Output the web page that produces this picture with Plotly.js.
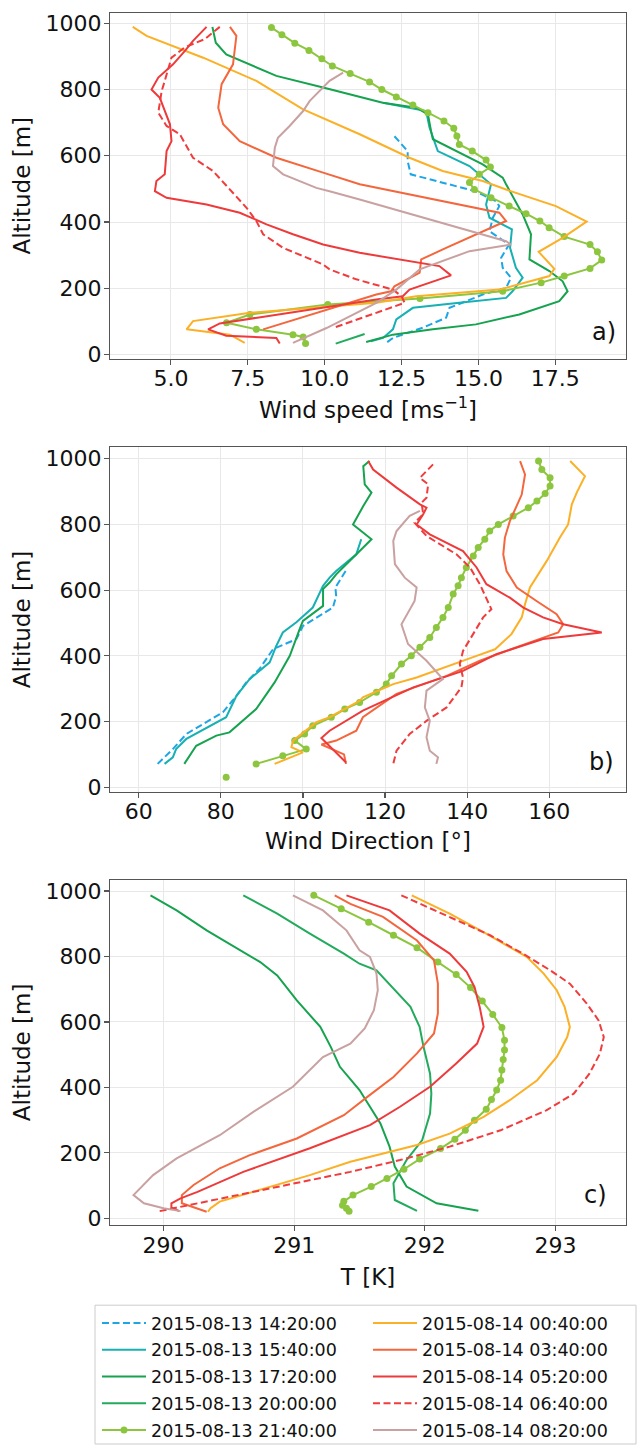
<!DOCTYPE html>
<html><head><meta charset="utf-8">
<script src="https://cdn.plot.ly/plotly-3.0.1.min.js"></script>
<style>html,body{margin:0;padding:0;background:#fff}#chart{width:638px;height:1448px}</style>
</head><body><div id="chart"></div>
<script>
// ---------- series names ----------
const NAMES = ['2015-08-13 14:20:00','2015-08-13 15:40:00','2015-08-13 17:20:00','2015-08-13 20:00:00','2015-08-13 21:40:00',
               '2015-08-14 00:40:00','2015-08-14 03:40:00','2015-08-14 05:20:00','2015-08-14 06:40:00','2015-08-14 08:20:00'];

// ---------- panel a: wind speed [m/s] vs altitude [m] ----------
const A_1420_ALT = [659,614,584,544,493,463,448,413,372,332,292,262,232,201,181,141,111,81,50,35];
const A_1420 = [12.27,12.7,12.7,12.8,14.9,15.57,15.68,15.47,15.36,16.0,15.74,15.79,16.06,15.9,15.14,14.06,13.95,13.19,12.22,12.0];
const A_1540_ALT = [760,735,685,614,569,514,453,413,378,322,262,232,191,171,156,141,106,76,50,40];
const A_1540 = [11.9,13.3,13.41,13.68,14.71,15.41,15.25,15.36,16.09,16.03,16.22,16.44,16.11,15.9,14.38,12.87,12.33,12.22,11.9,11.5];
const A_1720_ALT = [989,941,906,876,841,806,777,760,745,725,675,650,574,534,514,423,363,287,252,221,191,161,121,91,76,60,38];
const A_1720 = [6.35,6.46,6.8,7.57,8.43,9.95,11.14,11.89,12.98,13.36,13.46,13.52,15.14,15.79,15.9,16.44,16.71,16.66,17.31,17.74,17.9,17.63,16.33,14.92,13.52,12.22,11.35];
const A_2000_ALT = [62,33];
const A_2000 = [11.3,10.36];
const A_2140_ALT = [987,965,940,918,893,871,848,823,800,777,753,730,705,683,660,634,614,587,566,544,519,498,473,448,425,403,383,356,332,310,285,260,237,217,191,169,151,121,96,76,60,53,33];
const A_2140 = [8.27,8.61,9.03,9.49,9.91,10.25,10.83,11.46,11.86,12.33,12.87,13.36,13.88,14.2,14.3,14.38,14.8,15.25,15.39,15.03,14.71,14.87,15.41,16.0,16.55,17.0,17.3,17.79,18.63,18.87,19.01,18.63,17.79,17.04,15.79,13.1,10.1,7.57,6.81,7.78,8.97,9.3,9.38];
const A_0040_ALT = [989,962,896,826,740,665,594,554,524,498,448,423,401,352,310,259,237,196,176,156,126,101,76,60,35];
const A_0040 = [3.76,4.21,6.05,7.78,9.3,11.14,12.76,13.84,15.14,15.9,17.52,18.06,18.52,17.74,16.96,17.47,17.31,15.68,12.98,11.68,7.57,5.72,5.51,6.92,7.4];
const A_0340_ALT = [989,962,876,816,745,695,644,594,549,514,428,403,322,287,247,206,191,181,76];
const A_0340 = [6.92,7.13,7.02,6.65,6.54,6.7,7.24,8.43,9.95,11.14,15.68,15.9,13.95,13.14,13.09,12.27,12.16,11.68,8.0];
const A_0520_ALT = [989,947,916,876,836,800,775,695,644,614,544,524,493,473,453,428,393,363,332,307,267,239,196,176,166,94,76,57,50,33];
const A_0520 = [6.16,5.72,5.45,5.07,4.59,4.37,4.64,4.97,5.02,4.86,4.8,4.53,4.48,4.86,6.16,7.24,8.11,8.97,9.95,11.14,13.73,14.11,12.76,12.54,11.68,6.59,6.21,6.8,8.43,8.54];
const A_0640_ALT = [989,952,927,896,826,795,730,690,665,594,554,443,403,363,322,272,257,227,196,176,156,126,80];
const A_0640 = [6.59,6.1,5.45,5.02,4.8,4.7,4.59,4.86,5.29,5.72,6.37,7.46,7.78,8.0,8.65,9.95,10.16,11.03,12.22,12.5,12.6,11.68,10.27];
const A_0820_ALT = [851,826,765,735,690,654,624,569,544,503,493,468,342,332,312,257,196,156,80,35];
const A_0820 = [10.6,10.16,9.51,9.3,8.86,8.48,8.38,8.32,8.65,9.73,10.16,11.14,15.9,16.06,14.71,13.09,12.33,11.68,10.06,8.97];

// ---------- panel b: wind direction [deg] vs altitude [m] ----------
const B_1420_ALT = [658,608,582,547,491,451,420,360,319,278,228,162,116,71];
const B_1420 = [110.4,107.9,108.1,107.3,100,98.4,92.7,89.4,86.2,83.8,80.5,71.6,68.3,64.6];
const B_1540_ALT = [755,709,658,638,613,547,502,471,430,380,329,278,213,147,116,91,71];
const B_1540 = [114.2,113.0,108.1,106.5,104.9,102.4,98.4,95.1,93.5,91.9,87.0,83.8,81.3,71.6,69.1,68.3,66.3];
const B_1720_ALT = [993,977,922,897,856,800,755,714,648,623,603,552,506,481,400,319,238,167,157,126,71];
const B_1720 = [116.2,114.7,115.05,116.7,114.7,112.2,116.7,113.4,108.1,106.5,104.9,104.9,100,99.2,96.8,93.1,88.6,82.1,78.9,74.0,71.1];
const B_2140_ALT = [993,967,942,917,894,871,851,826,800,780,755,730,704,669,638,613,588,547,517,486,456,426,400,375,339,314,289,258,238,213,187,162,142,116,96,71,50,30];
const B_2140 = [157.4,158.2,160.2,160.2,159,157,154.9,151.2,147.6,145.5,144.3,142.7,141.5,139.8,138.6,137.8,136.6,135.4,134.1,132.5,130.9,128.5,126.4,124.0,121.6,120.3,117.9,113.8,110.2,106.9,102.4,100.4,98,100.8,95.1,88.6,null,81.3];
const B_0040_ALT = [993,947,897,861,800,760,689,608,557,517,466,420,400,360,334,314,274,263,213,198,167,142,122,106,71];
const B_0040 = [165.1,168.7,166.7,165.5,164.6,162.6,159.4,155.3,154.1,153.3,150.8,146.8,142.3,133.3,127.7,122.0,114.6,113.8,106.5,103.3,100,97.6,97.2,100,93.1];
const B_0340_ALT = [993,952,891,810,760,709,658,608,567,527,496,471,441,385,339,284,213,172,142,130,100,71];
const B_0340 = [152.9,154.1,153.3,150.4,149.2,148.8,149.6,152.1,156.9,161.8,163.4,162.2,155.3,143.1,135,122.8,114.6,113,108.1,104.5,110,110.5];
const B_0520_ALT = [993,967,912,861,851,831,800,770,719,669,618,577,547,517,496,471,451,405,354,304,233,172,150,120,75];
const B_0520 = [115.9,117.1,122.8,128.5,130.1,129.3,127.7,130.9,139,142.3,144.7,150.4,153.7,158.5,163.4,172.8,158.5,147.1,139,126.9,114.6,106.5,104.5,107,110.5];
const B_0640_ALT = [983,967,942,922,881,866,831,805,765,709,669,618,577,542,517,466,415,375,334,304,243,202,162,111,71];
const B_0640 = [131.7,130.5,128.5,130.5,130.1,128.9,129.3,127.2,130.1,137.4,140.7,143.1,144.7,145.9,143.9,141.5,139,138.2,139,138.6,135,130.1,126,122.8,122];
const B_0820_ALT = [841,826,780,750,679,638,608,567,496,436,385,329,294,243,202,152,111,91,71];
const B_0820 = [128.5,126,122.8,122,122.4,124.8,127.7,127.2,124,125.6,130.1,134.1,130.1,129.7,130.9,130.1,130.9,132.9,132.5];

// ---------- panel c: temperature [K] vs altitude [m] ----------
const C_1720_ALT = [987,941,880,829,783,742,666,585,524,463,392,290,219,158,97,46,23];
const C_1720 = [289.90,290.10,290.33,290.54,290.74,290.87,291.02,291.20,291.28,291.35,291.50,291.66,291.73,291.77,291.86,292.09,292.41];
const C_2000_ALT = [987,931,870,809,778,758,646,585,524,442,381,320,239,178,107,56,23];
const C_2000 = [290.61,290.87,291.12,291.38,291.50,291.63,291.89,291.96,291.99,292.04,292.05,292.04,291.98,291.86,291.76,291.77,291.94];
const C_2140_ALT = [987,946,905,865,827,783,745,705,664,623,583,544,514,485,453,422,392,363,333,300,269,242,213,181,150,122,97,71,52,40,31,22];
const C_2140 = [291.15,291.36,291.57,291.76,291.94,292.10,292.24,292.35,292.44,292.52,292.59,292.61,292.61,292.60,292.59,292.58,292.55,292.51,292.47,292.38,292.31,292.23,292.12,291.96,291.84,291.71,291.59,291.45,291.38,291.37,291.40,291.42];
const C_0040_ALT = [987,931,870,829,799,748,697,646,585,554,493,422,361,310,259,224,198,173,132,71,51,31,20];
const C_0040 = [291.90,292.19,292.47,292.65,292.78,292.91,293.01,293.07,293.11,293.09,293.01,292.86,292.65,292.45,292.19,291.94,291.68,291.43,291.12,290.61,290.43,290.36,290.34];
const C_0340_ALT = [987,961,921,849,788,717,626,565,504,432,371,315,244,193,153,102,71,46,20];
const C_0340 = [291.31,291.43,291.68,291.94,292.07,292.10,292.10,292.07,291.94,291.76,291.56,291.38,291.02,290.66,290.43,290.23,290.14,290.14,290.33];
const C_0520_ALT = [987,941,870,809,753,707,646,585,534,473,402,341,285,214,142,81,61,46,33,22];
const C_0520 = [291.40,291.73,291.96,292.19,292.32,292.38,292.42,292.45,292.40,292.24,292.04,291.81,291.58,291.12,290.61,290.26,290.13,290.06,290.06,290.12];
const C_0640_ALT = [987,921,865,809,758,717,656,605,554,503,442,381,330,269,219,178,142,22];
const C_0640 = [291.82,292.19,292.50,292.75,292.96,293.11,293.24,293.33,293.37,293.34,293.26,293.14,292.93,292.58,292.19,291.81,291.43,289.97];
const C_0820_ALT = [987,941,880,819,799,748,697,636,580,534,493,402,326,254,183,132,71,46,31,22];
const C_0820 = [290.99,291.22,291.40,291.50,291.58,291.63,291.64,291.61,291.54,291.43,291.22,290.99,290.69,290.43,290.10,289.92,289.77,289.85,290.0,290.13];

// ---------- tick values ----------
const ALT_TICKS = [0,200,400,600,800,1000];
const WS_TICKS = [5.0,7.5,10.0,12.5,15.0,17.5];
const WD_TICKS = [60,80,100,120,140,160];
const T_TICKS = [290,291,292,293];

// ---------- styling (not data) ----------
const STYLE = [
  {color:'#1ea5e6', dash:'dash'},
  {color:'#17b0b3', dash:'solid'},
  {color:'#16a34f', dash:'solid'},
  {color:'#22ab5c', dash:'solid'},
  {color:'#8cc63f', dash:'solid', marker:true},
  {color:'#fbb025', dash:'solid'},
  {color:'#f4663c', dash:'solid'},
  {color:'#ee3a3a', dash:'solid'},
  {color:'#f03c3c', dash:'dash'},
  {color:'#c9a1a1', dash:'solid'}
];

const PANEL_A = [[A_1420,A_1420_ALT],[A_1540,A_1540_ALT],[A_1720,A_1720_ALT],[A_2000,A_2000_ALT],[A_2140,A_2140_ALT],[A_0040,A_0040_ALT],[A_0340,A_0340_ALT],[A_0520,A_0520_ALT],[A_0640,A_0640_ALT],[A_0820,A_0820_ALT]];
const PANEL_B = [[B_1420,B_1420_ALT],[B_1540,B_1540_ALT],[B_1720,B_1720_ALT],null,[B_2140,B_2140_ALT],[B_0040,B_0040_ALT],[B_0340,B_0340_ALT],[B_0520,B_0520_ALT],[B_0640,B_0640_ALT],[B_0820,B_0820_ALT]];
const PANEL_C = [null,null,[C_1720,C_1720_ALT],[C_2000,C_2000_ALT],[C_2140,C_2140_ALT],[C_0040,C_0040_ALT],[C_0340,C_0340_ALT],[C_0520,C_0520_ALT],[C_0640,C_0640_ALT],[C_0820,C_0820_ALT]];

const FONT = 'DejaVu Sans, Verdana, sans-serif';
const TXT = '#111111';
const W = 638, H = 1448;
const fx = v => v / W;
const fy = v => 1 - v / H;

const traces = [];
const panels = [[PANEL_A,'x','y'],[PANEL_B,'x2','y2'],[PANEL_C,'x3','y3']];
const shown = {};
panels.forEach(([P, xa, ya]) => {
  P.forEach((d, i) => {
    if (!d) return;
    const st = STYLE[i];
    const first = !shown[i];
    shown[i] = true;
    const tr = {
      type:'scatter', x:d[0], y:d[1], xaxis:xa, yaxis:ya,
      mode: st.marker ? 'lines+markers' : 'lines',
      name: NAMES[i], legendgroup: NAMES[i], showlegend: first,
      legend: i < 5 ? 'legend' : 'legend2',
      connectgaps:false,
      line:{color:st.color, width:2, dash: st.dash === 'dash' ? '7px,3.5px' : 'solid'},
      hoverinfo:'skip'
    };
    if (st.marker) tr.marker = {size:7, color:st.color};
    traces.push(tr);
  });
});

const xDom = [fx(110), fx(626)];
function ax(extra) {
  return Object.assign({
    showline:true, mirror:true, linecolor:'#555', linewidth:1.2,
    ticks:'outside', ticklen:5, tickwidth:1.2, tickcolor:'#555',
    showgrid:true, gridcolor:'#e8e8e8', gridwidth:1, zeroline:false,
    tickfont:{family:FONT, size:22, color:TXT}, automargin:false, fixedrange:true,
    tickmode:'array'
  }, extra);
}
const titleFont = {family:FONT, size:23, color:TXT};

const layout = {
  width:W, height:H, autosize:false,
  margin:{l:0,r:0,t:0,b:0,pad:0},
  paper_bgcolor:'#fff', plot_bgcolor:'#fff',
  font:{family:FONT, color:TXT},
  showlegend:true,
  xaxis: ax({domain:xDom, anchor:'y', range:[3.02,19.8], tickvals:WS_TICKS, ticktext:WS_TICKS.map(v=>v.toFixed(1)),
             ticklabelstandoff:-5, title:{text:'Wind speed [ms<sup>−1</sup>]', font:titleFont, standoff:11}}),
  yaxis: ax({domain:[fy(359), fy(13)], anchor:'x', range:[-12,1031], tickvals:ALT_TICKS, ticklabelstandoff:-2,
             title:{text:'Altitude [m]', font:titleFont, standoff:8}}),
  xaxis2: ax({domain:xDom, anchor:'y2', range:[53,178.7], tickvals:WD_TICKS, ticklabelstandoff:-5,
             title:{text:'Wind Direction [°]', font:titleFont, standoff:9}}),
  yaxis2: ax({domain:[fy(792.7), fy(448)], anchor:'x2', range:[-13.4,1034.6], tickvals:ALT_TICKS, ticklabelstandoff:-2,
             title:{text:'Altitude [m]', font:titleFont, standoff:8}}),
  xaxis3: ax({domain:xDom, anchor:'y3', range:[289.59,293.54], tickvals:T_TICKS, ticklabelstandoff:-5,
             title:{text:'T [K]', font:titleFont, standoff:12}}),
  yaxis3: ax({domain:[fy(1226.7), fy(881)], anchor:'x3', range:[-20.4,1034.5], tickvals:ALT_TICKS, ticklabelstandoff:-2,
             title:{text:'Altitude [m]', font:titleFont, standoff:8}}),
  legend: {x:fx(97), xanchor:'left', y:fy(1307), yanchor:'top', bgcolor:'rgba(0,0,0,0)', borderwidth:0,
           font:{family:FONT, size:17.5, color:TXT}, itemwidth:44, tracegroupgap:1, traceorder:'grouped'},
  legend2: {x:fx(368), xanchor:'left', y:fy(1307), yanchor:'top', bgcolor:'rgba(0,0,0,0)', borderwidth:0,
           font:{family:FONT, size:17.5, color:TXT}, itemwidth:44, tracegroupgap:1, traceorder:'grouped'},
  shapes: [{type:'rect', xref:'paper', yref:'paper', x0:fx(95), x1:fx(636), y0:fy(1446), y1:fy(1307),
            line:{color:'#cccccc', width:1}, fillcolor:'rgba(0,0,0,0)'}],
  annotations: [
    {text:'a)', xref:'paper', yref:'paper', x:fx(618), y:fy(332), xanchor:'right', yanchor:'middle', showarrow:false, font:{family:FONT,size:24,color:TXT}},
    {text:'b)', xref:'paper', yref:'paper', x:fx(616), y:fy(763), xanchor:'right', yanchor:'middle', showarrow:false, font:{family:FONT,size:24,color:TXT}},
    {text:'c)', xref:'paper', yref:'paper', x:fx(609), y:fy(1197), xanchor:'right', yanchor:'middle', showarrow:false, font:{family:FONT,size:24,color:TXT}}
  ]
};

Plotly.newPlot('chart', traces, layout, {staticPlot:true, displayModeBar:false});
</script></body></html>
